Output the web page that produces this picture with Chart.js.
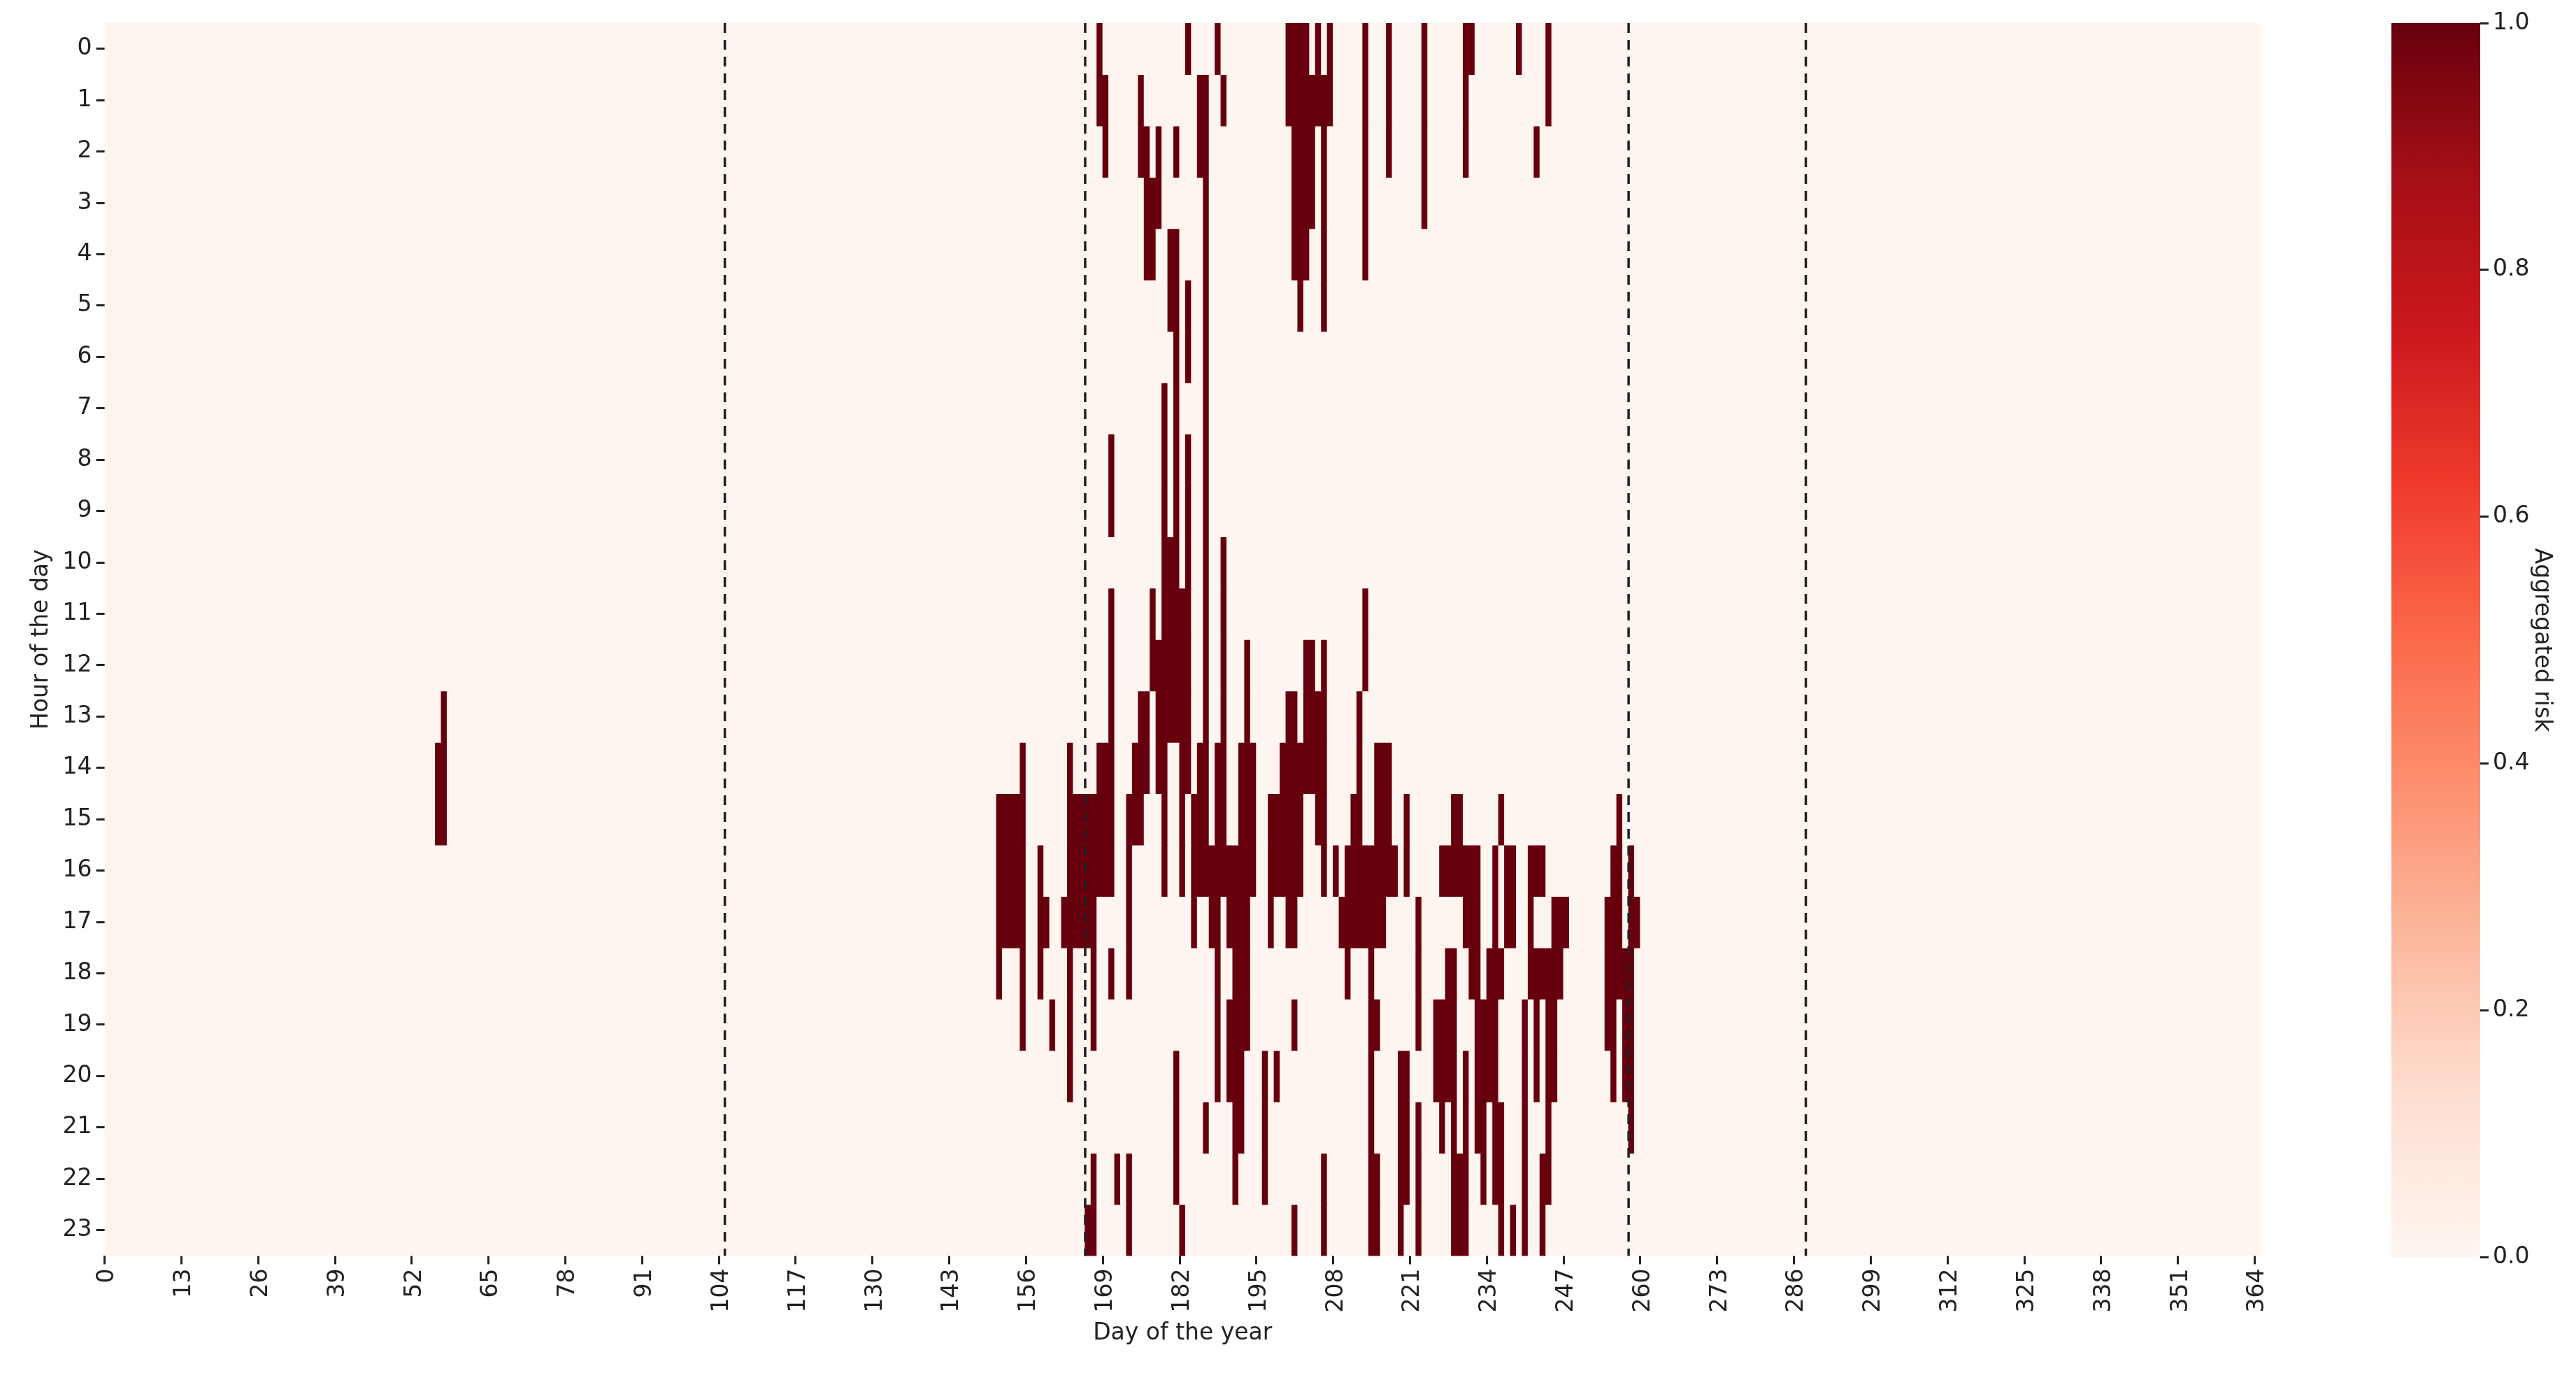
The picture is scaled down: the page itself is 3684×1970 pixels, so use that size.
<!DOCTYPE html>
<html>
<head>
  <meta charset="UTF-8">
  <title>Risk heatmap</title>
  <script src="https://cdn.jsdelivr.net/npm/chart.js"></script>
  <style>
    body { margin: 0; background: white; width: 3684px; height: 1970px; overflow: hidden; }
    #heat { position: absolute; left: 0; top: 0; }
    #bar { position: absolute; left: 3330px; top: 0; }
  </style>
</head>
<body>
  <canvas id="heat" width="3300" height="1970"></canvas>
  <canvas id="bar" width="354" height="1970"></canvas>
  <script>
    // days (0..364) that have risk = 1, and the hours for each
    const riskDays = [56, 57, 151, 152, 153, 154, 155, 158, 159, 160, 162, 163, 164, 165, 166, 167, 168, 169, 170, 171,
      173, 174, 175, 176, 177, 178, 179, 180, 181, 182, 183, 184, 185, 186, 187, 188, 189, 190, 191, 192,
      193, 194, 196, 197, 198, 199, 200, 201, 202, 203, 204, 205, 206, 207, 208, 209, 210, 211, 212, 213,
      214, 215, 216, 217, 218, 219, 220, 222, 223, 225, 226, 227, 228, 229, 230, 231, 232, 233, 234, 235,
      236, 237, 238, 239, 240, 241, 242, 243, 244, 245, 246, 247, 254, 255, 256, 257, 258, 259];
    const riskHours = [
      [14, 15], [13, 14, 15], [15, 16, 17, 18], [15, 16, 17], [15, 16, 17], [15, 16, 17], [14, 15, 16, 17, 18, 19],
      [16, 17, 18], [17], [19], [17], [14, 15, 16, 17, 18, 19, 20], [15, 16, 17], [15, 16, 17], [15, 16, 17, 23],
      [15, 16, 17, 18, 19, 22, 23], [0, 1, 14, 15, 16], [1, 2, 14, 15, 16], [8, 9, 11, 12, 13, 14, 15, 16, 18], [22],
      [15, 16, 17, 18, 22, 23], [14, 15], [1, 2, 13, 14, 15], [2, 3, 4, 13, 14], [3, 4, 11, 12], [2, 3, 12, 13, 14],
      [7, 8, 9, 10, 11, 12, 13, 14, 15, 16], [4, 5, 10, 11, 12, 13],
      [2, 4, 5, 6, 7, 8, 9, 10, 11, 12, 13, 20, 21, 22], [11, 12, 13, 14, 15, 16, 23],
      [0, 5, 6, 8, 9, 10, 11, 12, 13, 14], [15, 16, 17], [1, 2, 14, 15, 16],
      [1, 2, 3, 4, 5, 6, 7, 8, 9, 10, 11, 12, 13, 14, 15, 16, 21], [16, 17], [0, 14, 15, 16, 17, 18, 19, 20],
      [1, 10, 11, 12, 13, 14, 15, 16], [16, 17, 19, 20], [16, 17, 18, 19, 20, 21, 22], [14, 15, 16, 17, 18, 19, 20, 21],
      [12, 13, 14, 15, 16, 17, 18, 19], [14, 15, 16], [20, 21, 22], [15, 16, 17], [15, 16, 20], [14, 15, 16],
      [0, 1, 13, 14, 15, 16, 17], [0, 1, 2, 3, 4, 13, 14, 15, 16, 17, 19, 23], [0, 1, 2, 3, 4, 5, 14, 15, 16],
      [0, 1, 2, 3, 4, 12, 13, 14], [1, 2, 3, 12, 13, 14], [0, 1, 13, 14, 15],
      [1, 2, 3, 4, 5, 12, 13, 14, 15, 16, 22, 23], [0, 1], [16], [17], [16, 17, 18], [15, 16, 17], [13, 14, 15, 16, 17],
      [0, 1, 2, 3, 4, 11, 12, 16, 17], [16, 17, 18, 19, 20, 21, 22, 23], [14, 15, 16, 17, 19, 22, 23], [14, 15, 16, 17],
      [0, 1, 2, 14, 15, 16], [16], [20, 21, 22, 23], [15, 16, 20, 21, 22], [17, 18, 19, 21, 22, 23], [0, 1, 2, 3],
      [19, 20], [16, 19, 20, 21], [16, 18, 19, 20], [15, 16, 18, 19, 20, 21, 22, 23], [15, 16, 22, 23],
      [0, 1, 2, 16, 17, 20, 21, 22, 23], [0, 16, 17, 18], [16, 17, 18, 19, 20, 21], [19, 20, 21, 22], [18, 19, 20],
      [16, 17, 18, 19, 20, 21, 22], [15, 18, 21, 22, 23], [16, 17], [16, 17, 23], [0], [19, 20, 21, 22, 23],
      [16, 17, 18], [2, 16, 18, 19, 20], [16, 18, 22, 23], [0, 1, 18, 19, 20, 21, 22], [17, 18, 19, 20], [17, 18], [17],
      [17, 18, 19], [16, 17, 18, 19, 20], [15, 16, 17, 18], [18, 19, 20], [16, 17, 18, 19, 20, 21], [17]
    ];
    const dashedDays = [105, 166, 258, 288];
    const colorTicks = [0, 0.2, 0.4, 0.6, 0.8, 1.0];
    const dayStep = 13;

    const days = [];
    for (let d = 0; d < 365; d++) days.push(d);
    const hours = [];
    for (let h = 0; h < 24; h++) hours.push(h);

    const risk = {};
    riskDays.forEach((d, i) => {
      riskHours[i].forEach(h => { risk[d + '_' + h] = 1; });
    });

    const LOW = '#fff5f0';
    const HIGH = '#67000d';
    Chart.defaults.font.family = 'DejaVu Sans';
    Chart.defaults.color = '#222';

    const datasets = hours.map(h => ({
      label: 'hour ' + h,
      data: days.map(() => [h, h + 1]),
      backgroundColor: ctx => risk[ctx.dataIndex + '_' + h] ? HIGH : LOW,
      borderWidth: 0,
      inflateAmount: 0.6,
      barPercentage: 1,
      categoryPercentage: 1
    }));

    const dashed = {
      id: 'dashed',
      afterDatasetsDraw(chart) {
        const xs = chart.scales.x;
        const area = chart.chartArea;
        const c = chart.ctx;
        c.save();
        c.strokeStyle = '#222';
        c.lineWidth = 3.5;
        c.setLineDash([14, 10]);
        dashedDays.forEach(d => {
          const x = (xs.getPixelForValue(d - 1) + xs.getPixelForValue(d)) / 2;
          c.beginPath();
          c.moveTo(x, area.top);
          c.lineTo(x, area.bottom);
          c.stroke();
        });
        c.restore();
      }
    };

    new Chart(document.getElementById('heat'), {
      type: 'bar',
      data: { labels: days, datasets: datasets },
      options: {
        responsive: false,
        animation: false,
        devicePixelRatio: 1,
        layout: { padding: { top: 33, right: 67, left: 36, bottom: 40 } },
        plugins: { legend: { display: false }, tooltip: { enabled: false } },
        scales: {
          x: {
            stacked: true,
            grid: {
              display: true, drawOnChartArea: false, tickLength: 12, tickWidth: 3,
              color: ctx => (ctx.index % dayStep === 0 ? '#222' : 'rgba(0,0,0,0)')
            },
            border: { display: false },
            ticks: {
              autoSkip: false, maxRotation: 90, minRotation: 90, font: { size: 33 }, padding: 6,
              callback: (v, i) => (i % dayStep === 0 ? String(i) : '')
            },
            title: { display: true, text: 'Day of the year', font: { size: 33 }, padding: { top: 4 } }
          },
          y: {
            reverse: true, min: 0, max: 24,
            grid: { display: true, drawOnChartArea: false, tickLength: 12, tickWidth: 3, color: '#222' },
            border: { display: false },
            afterBuildTicks: axis => { axis.ticks = hours.map(h => ({ value: h + 0.5 })); },
            ticks: { font: { size: 33 }, padding: 6, callback: v => String(Math.floor(v)) },
            title: { display: true, text: 'Hour of the day', font: { size: 33 }, padding: { bottom: 4 } }
          }
        }
      },
      plugins: [dashed]
    });

    // colour bar
    new Chart(document.getElementById('bar'), {
      type: 'bar',
      data: {
        labels: ['risk'],
        datasets: [{
          data: [[0, 1]],
          borderWidth: 0,
          barPercentage: 1,
          categoryPercentage: 1,
          backgroundColor: ctx => {
            const a = ctx.chart.chartArea;
            if (!a) return HIGH;
            const g = ctx.chart.ctx.createLinearGradient(0, a.bottom, 0, a.top);
            g.addColorStop(0, '#fff5f0');
            g.addColorStop(0.125, '#fee0d2');
            g.addColorStop(0.25, '#fcbba1');
            g.addColorStop(0.375, '#fc9272');
            g.addColorStop(0.5, '#fb6a4a');
            g.addColorStop(0.625, '#ef3b2c');
            g.addColorStop(0.75, '#cb181d');
            g.addColorStop(0.875, '#a50f15');
            g.addColorStop(1, '#67000d');
            return g;
          }
        }]
      },
      options: {
        responsive: false,
        animation: false,
        devicePixelRatio: 1,
        layout: { padding: { top: 33, left: 90, right: 10, bottom: 173 } },
        plugins: { legend: { display: false }, tooltip: { enabled: false } },
        scales: {
          x: { display: false },
          y: {
            position: 'right', min: 0, max: 1,
            afterBuildTicks: axis => { axis.ticks = colorTicks.map(v => ({ value: v })); },
            grid: { display: true, drawOnChartArea: false, tickLength: 12, tickWidth: 3, color: '#222' },
            border: { display: false },
            ticks: { font: { size: 33 }, padding: 6, callback: v => v.toFixed(1) },
            title: { display: true, text: 'Aggregated risk', font: { size: 33 }, padding: { top: 20 } }
          }
        }
      }
    });
  </script>
</body>
</html>
